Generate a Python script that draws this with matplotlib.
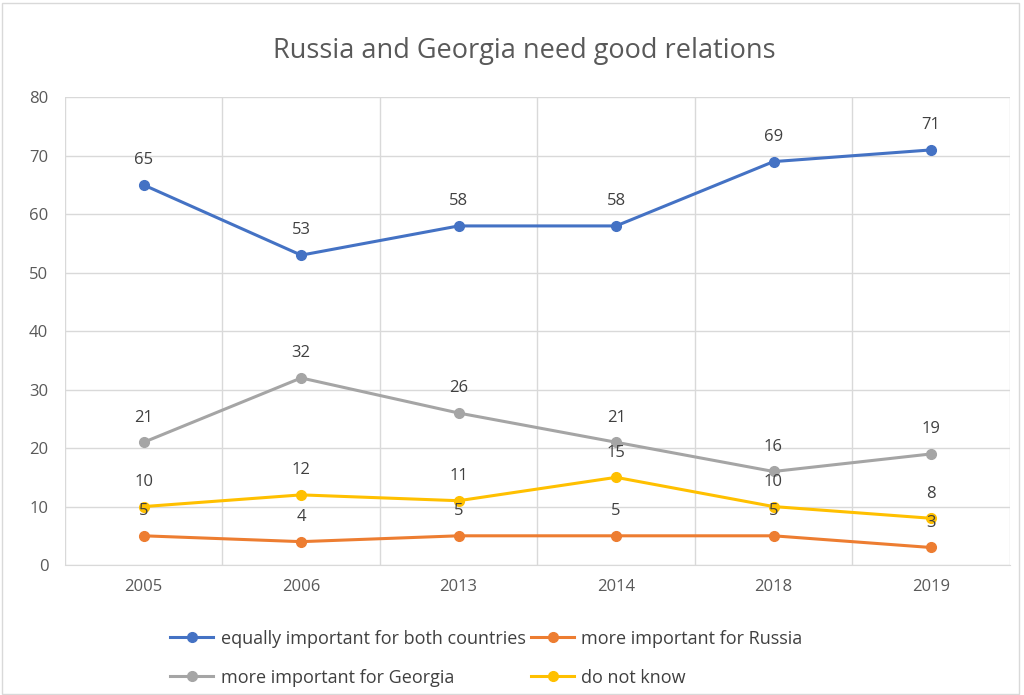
import matplotlib
matplotlib.use("Agg")
import matplotlib.pyplot as plt
from matplotlib.patches import Rectangle

years = ["2005", "2006", "2013", "2014", "2018", "2019"]
equally = [65, 53, 58, 58, 69, 71]
russia = [5, 4, 5, 5, 5, 3]
georgia = [21, 32, 26, 21, 16, 19]
dont_know = [10, 12, 11, 15, 10, 8]

series = [
    ("equally important for both countries", equally, "#4472C4"),
    ("more important for Russia", russia, "#ED7D31"),
    ("more important for Georgia", georgia, "#A5A5A5"),
    ("do not know", dont_know, "#FFC000"),
]

plt.rcParams['font.family'] = ['Open Sans', 'DejaVu Sans']

fig = plt.figure(figsize=(10.24, 6.95), dpi=100)
fig.patches.append(Rectangle((0.002, 0.002), 0.993, 0.993, transform=fig.transFigure,
                             fill=False, edgecolor="#D9D9D9", linewidth=1))
ax = fig.add_axes([0.0635, 0.187, 0.9225, 0.673])

x = list(range(1, len(years) + 1))
lines = []
for name, vals, col in series:
    ln, = ax.plot(x, vals, color=col, linewidth=2.2, marker='o', markersize=7, label=name, zorder=3)
    lines.append(ln)
    for xi, v in zip(x, vals):
        ax.annotate(str(v), (xi, v), xytext=(0, 12), textcoords="offset points",
                    ha='center', va='bottom', fontsize=12, color="#404040", zorder=4)

ax.set_xlim(0.5, len(years) + 0.5)
ax.set_ylim(0, 80)
ax.set_yticks(range(0, 81, 10))
ax.set_xticks(x)
ax.set_xticklabels(years)
ax.set_xticks([i + 0.5 for i in range(0, len(years) + 1)], minor=True)
ax.grid(True, which='minor', axis='x', color="#D9D9D9", linewidth=1)
ax.grid(True, which='major', axis='y', color="#D9D9D9", linewidth=1)
ax.set_axisbelow(True)
ax.tick_params(axis='both', which='both', length=0, labelsize=12, colors="#595959")
ax.tick_params(axis='x', pad=10)
ax.tick_params(axis='y', pad=12)
for s in ['top', 'right', 'left']:
    ax.spines[s].set_visible(False)
ax.spines['bottom'].set_color("#D9D9D9")

fig.text(0.512, 0.926, "Russia and Georgia need good relations", ha='center', va='center',
         fontsize=19.5, color="#595959")

order = [0, 2, 1, 3]
fig.legend([lines[i] for i in order], [series[i][0] for i in order],
           loc='center', bbox_to_anchor=(0.475, 0.053), ncol=2,
           frameon=False, fontsize=13, labelcolor="#404040", handlelength=2.4,
           handletextpad=0.4, columnspacing=0.3, labelspacing=1.15)

fig.savefig("out.png", dpi=100)
